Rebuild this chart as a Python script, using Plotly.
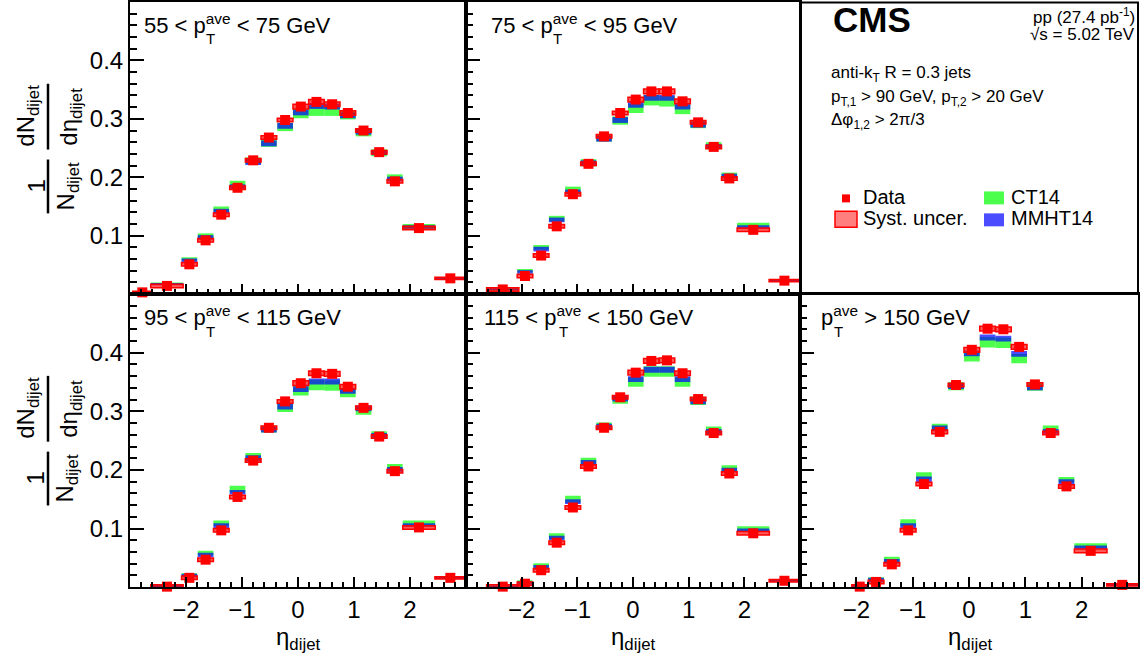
import plotly.graph_objects as go

W, H = 1148, 660

# ---------------- data ----------------
eta_centers = [-2.78, -2.34, -1.94, -1.65, -1.37, -1.08, -0.80, -0.52, -0.23,
               0.05, 0.33, 0.61, 0.89, 1.17, 1.45, 1.73, 2.16, 2.72]
bin_widths = [0.34, 0.58, 0.28, 0.28, 0.28, 0.28, 0.28, 0.28, 0.28,
              0.28, 0.28, 0.28, 0.28, 0.28, 0.28, 0.28, 0.58, 0.55]

panel_labels = ["55 < p", "75 < p", "95 < p", "115 < p", "p"]
panel_label_tails = [" < 75 GeV", " < 95 GeV", " < 115 GeV", " < 150 GeV", " > 150 GeV"]

data_55 = [0.003, 0.014, 0.051, 0.092, 0.136, 0.182, 0.229, 0.268, 0.298,
           0.321, 0.329, 0.325, 0.310, 0.280, 0.243, 0.193, 0.113, 0.027]
ct14_55 = [None, 0.018, 0.060, 0.100, 0.145, 0.188, 0.228, 0.258, 0.286,
           0.309, 0.314, 0.314, 0.307, 0.277, 0.242, 0.200, 0.116, 0.027]
mmht_55 = [None, 0.017, 0.058, 0.097, 0.142, 0.184, 0.226, 0.258, 0.288,
           0.311, 0.322, 0.321, 0.306, 0.278, 0.242, 0.197, 0.115, 0.027]

data_75 = [None, 0.008, 0.031, 0.066, 0.116, 0.171, 0.223, 0.270, 0.310,
           0.333, 0.347, 0.347, 0.330, 0.294, 0.252, 0.198, 0.110, 0.023]
ct14_75 = [None, 0.008, 0.040, 0.080, 0.129, 0.178, 0.225, 0.267, 0.297,
           0.318, 0.332, 0.330, 0.316, 0.291, 0.254, 0.203, 0.118, 0.023]
mmht_75 = [None, 0.008, 0.038, 0.077, 0.127, 0.175, 0.224, 0.266, 0.298,
           0.324, 0.336, 0.336, 0.321, 0.290, 0.253, 0.202, 0.115, 0.023]

data_95 = [None, 0.001, 0.016, 0.047, 0.097, 0.154, 0.216, 0.272, 0.317,
           0.348, 0.365, 0.364, 0.342, 0.306, 0.257, 0.198, 0.102, 0.016]
ct14_95 = [None, 0.002, 0.021, 0.058, 0.109, 0.167, 0.223, 0.270, 0.306,
           0.335, 0.345, 0.344, 0.332, 0.301, 0.260, 0.205, 0.110, 0.016]
mmht_95 = [None, 0.002, 0.020, 0.055, 0.105, 0.162, 0.220, 0.269, 0.308,
           0.338, 0.351, 0.351, 0.335, 0.305, 0.259, 0.201, 0.106, 0.016]

data_115 = [None, 0.001, 0.006, 0.029, 0.076, 0.136, 0.206, 0.272, 0.324,
            0.366, 0.386, 0.387, 0.365, 0.321, 0.263, 0.194, 0.092, 0.011]
ct14_115 = [None, 0.001, 0.009, 0.037, 0.087, 0.150, 0.215, 0.275, 0.320,
            0.350, 0.368, 0.368, 0.350, 0.318, 0.268, 0.203, 0.100, 0.011]
mmht_115 = [None, 0.001, 0.007, 0.034, 0.084, 0.146, 0.212, 0.274, 0.322,
            0.355, 0.371, 0.371, 0.355, 0.317, 0.266, 0.200, 0.097, 0.011]

data_150 = [None, None, 0.001, 0.009, 0.039, 0.097, 0.176, 0.265, 0.345,
            0.405, 0.441, 0.440, 0.410, 0.346, 0.263, 0.172, 0.062, 0.004]
ct14_150 = [None, None, 0.002, 0.013, 0.047, 0.110, 0.190, 0.273, 0.343,
            0.393, 0.418, 0.417, 0.390, 0.342, 0.270, 0.183, 0.071, 0.004]
mmht_150 = [None, None, 0.002, 0.012, 0.044, 0.105, 0.184, 0.271, 0.343,
            0.399, 0.426, 0.424, 0.398, 0.341, 0.266, 0.180, 0.068, 0.004]

# half-heights of the uncertainty boxes
ct14_unc = [0.002, 0.002, 0.003, 0.004, 0.005, 0.006, 0.006, 0.006, 0.007,
            0.008, 0.009, 0.009, 0.008, 0.007, 0.006, 0.005, 0.004, 0.002]
mmht_unc = [0.002, 0.002, 0.003, 0.004, 0.004, 0.004, 0.005, 0.005, 0.005,
            0.005, 0.005, 0.005, 0.005, 0.005, 0.004, 0.004, 0.003, 0.002]
syst_unc = [0.002, 0.003, 0.003, 0.003, 0.003, 0.003, 0.003, 0.003, 0.003,
            0.004, 0.004, 0.004, 0.004, 0.003, 0.003, 0.003, 0.003, 0.002]

x_tick_vals = [-2, -1, 0, 1, 2]
x_tick_text = ["\u22122", "\u22121", "0", "1", "2"]
y_tick_vals = [0.1, 0.2, 0.3, 0.4]
y_tick_text = ["0.1", "0.2", "0.3", "0.4"]

panels = [
    (data_55, ct14_55, mmht_55),
    (data_75, ct14_75, mmht_75),
    (data_95, ct14_95, mmht_95),
    (data_115, ct14_115, mmht_115),
    (data_150, ct14_150, mmht_150),
]

# ---------------- layout helpers ----------------
def px(x):
    return x / W

def py(y):
    return 1 - y / H

FONT = "Liberation Sans, Arial, Helvetica, sans-serif"
cols = [(130, 466), (466, 800), (800, 1138)]
rows = [(0, 293), (293, 587)]
# panel -> (col, row)
pos = [(0, 0), (1, 0), (0, 1), (1, 1), (2, 1)]

GREEN = "rgba(0,255,0,0.7)"
BLUE = "rgba(0,0,255,0.7)"
SYST_FILL = "rgba(255,0,0,0.65)"
SYST_LEG = "rgba(255,0,0,0.5)"

fig = go.Figure()
layout_axes = {}

for i, ((dv, cv, mv), (c, r)) in enumerate(zip(panels, pos)):
    n = i + 1
    xa = "x" if n == 1 else f"x{n}"
    ya = "y" if n == 1 else f"y{n}"
    xkey = "xaxis" if n == 1 else f"xaxis{n}"
    ykey = "yaxis" if n == 1 else f"yaxis{n}"

    def boxes(vals, unc):
        xs, ws, bs, hs = [], [], [], []
        for xc, w, v, u in zip(eta_centers, bin_widths, vals, unc):
            if v is None:
                continue
            xs.append(xc); ws.append(w); bs.append(v - u); hs.append(2 * u)
        return xs, ws, bs, hs

    for vals, unc, col, lw, lc in [(cv, ct14_unc, GREEN, 0, GREEN),
                                   (mv, mmht_unc, BLUE, 0, BLUE),
                                   (dv, syst_unc, SYST_FILL, 1.5, "red")]:
        xs, ws, bs, hs = boxes(vals, unc)
        fig.add_trace(go.Bar(x=xs, y=hs, base=bs, width=ws, xaxis=xa, yaxis=ya,
                             marker=dict(color=col, line=dict(width=lw, color=lc)),
                             showlegend=False, hoverinfo="skip"))
    mx = [x for x, v in zip(eta_centers, dv) if v is not None]
    my = [v for v in dv if v is not None]
    fig.add_trace(go.Scatter(x=mx, y=my, mode="markers", xaxis=xa, yaxis=ya,
                             marker=dict(symbol="square", size=10, color="red",
                                         line=dict(width=0)),
                             cliponaxis=False, showlegend=False, hoverinfo="skip"))

    x0, x1 = cols[c]
    y0, y1 = rows[r]
    layout_axes[xkey] = dict(
        domain=[px(x0), px(x1)], anchor=ya, range=[-3, 3],
        tickmode="array", tickvals=x_tick_vals, ticktext=x_tick_text,
        showticklabels=(r == 1), ticks="inside", ticklen=10, tickwidth=1.5,
        tickcolor="black",
        minor=dict(tickmode="linear", tick0=0, dtick=0.2, ticks="inside",
                   ticklen=5, tickwidth=1.5, tickcolor="black"),
        showline=True, linecolor="black", linewidth=2, mirror=True,
        showgrid=False, zeroline=False,
        tickfont=dict(family=FONT, size=24, color="black"),
    )
    layout_axes[ykey] = dict(
        domain=[py(y1), py(y0)], anchor=xa, range=[0, 0.5],
        tickmode="array", tickvals=y_tick_vals, ticktext=y_tick_text,
        showticklabels=(c == 0), ticks="inside", ticklen=14, tickwidth=1.5,
        tickcolor="black",
        minor=dict(tickmode="linear", tick0=0, dtick=0.02, ticks="inside",
                   ticklen=7, tickwidth=1.5, tickcolor="black"),
        showline=True, linecolor="black", linewidth=2, mirror=True,
        showgrid=False, zeroline=False,
        tickfont=dict(family=FONT, size=24, color="black"),
    )

annotations = []
shapes = []

def ann(x, y, text, size, xanchor="left", yanchor="middle", angle=0, bold=False):
    annotations.append(dict(x=px(x), y=py(y), xref="paper", yref="paper",
                            text=f"<b>{text}</b>" if bold else text,
                            showarrow=False, xanchor=xanchor, yanchor=yanchor,
                            textangle=angle,
                            font=dict(family=FONT, size=size, color="black")))

# panel labels with stacked p_T^ave
label_pos = [(142, 22), (489, 22), (142, 315), (482, 315), (819, 315)]
PTXT = 22
cw = {"5": 0.556, "7": 0.556, "9": 0.556, "1": 0.556, " ": 0.278, "<": 0.584, "p": 0.556}
for lab, tail, (lx, ly) in zip(panel_labels, panel_label_tails, label_pos):
    ann(lx, ly, lab + "<sup>ave</sup>" + tail, PTXT)
    wpx = sum(cw[ch] for ch in lab) * PTXT
    ann(lx + wpx + 0.5, ly + 15, "T", 15)

# y-axis titles as fractions
for dy in (0, 293):
    ann(36, 185 + dy, "1", 24, xanchor="center", angle=-90)
    ann(67, 185 + dy, "N<sub>dijet</sub>", 24, xanchor="center", angle=-90)
    ann(28, 114 + dy, "dN<sub>dijet</sub>", 24, xanchor="center", angle=-90)
    ann(71, 115 + dy, "d\u03b7<sub>dijet</sub>", 24, xanchor="center", angle=-90)
    shapes.append(dict(type="line", xref="paper", yref="paper",
                       x0=px(48), x1=px(48), y0=py(158 + dy), y1=py(212 + dy),
                       line=dict(color="black", width=2.5)))
    shapes.append(dict(type="line", xref="paper", yref="paper",
                       x0=px(48), x1=px(48), y0=py(82 + dy), y1=py(148 + dy),
                       line=dict(color="black", width=2.5)))

# x-axis titles
for cx in (298, 633, 970):
    ann(cx, 638, "\u03b7<sub>dijet</sub>", 24, xanchor="center")

# top-right info panel
shapes.append(dict(type="rect", xref="paper", yref="paper",
                   x0=px(800), x1=px(1138), y0=py(293), y1=py(0.5),
                   line=dict(color="black", width=2)))
ann(831, 18, "CMS", 35, bold=True)
ann(1137, 14, "pp (27.4 pb<sup>-1</sup>)", 17, xanchor="right")
ann(1137, 33, "\u221as = 5.02 TeV", 17, xanchor="right")
ann(829, 72, "anti-k<sub>T</sub> R = 0.3 jets", 17)
ann(829, 96, "p<sub>T,1</sub> > 90 GeV, p<sub>T,2</sub> > 20 GeV", 17)
ann(829, 119, "\u0394\u03c6<sub>1,2</sub> > 2\u03c0/3", 17)

# legend
shapes.append(dict(type="rect", xref="paper", yref="paper",
                   x0=px(842), x1=px(850), y0=py(201), y1=py(193),
                   line=dict(width=0), fillcolor="red"))
shapes.append(dict(type="rect", xref="paper", yref="paper",
                   x0=px(835), x1=px(857), y0=py(226), y1=py(210),
                   line=dict(color="red", width=1.5), fillcolor=SYST_LEG))
shapes.append(dict(type="rect", xref="paper", yref="paper",
                   x0=px(984), x1=px(1004), y0=py(203), y1=py(190),
                   line=dict(width=0), fillcolor=GREEN))
shapes.append(dict(type="rect", xref="paper", yref="paper",
                   x0=px(984), x1=px(1004), y0=py(225), y1=py(212),
                   line=dict(width=0), fillcolor=BLUE))
ann(861, 196, "Data", 20)
ann(861, 217, "Syst. uncer.", 20)
ann(1009, 196, "CT14", 20)
ann(1009, 217, "MMHT14", 20)

fig.update_layout(
    width=W, height=H, margin=dict(l=0, r=0, t=0, b=0),
    paper_bgcolor="white", plot_bgcolor="white",
    barmode="overlay", showlegend=False,
    annotations=annotations, shapes=shapes,
    font=dict(family=FONT, color="black"),
    **layout_axes,
)

fig.write_html("out.html", config={"displayModeBar": False},
               post_script="document.body.style.margin='0px';document.body.style.overflow='hidden';")
